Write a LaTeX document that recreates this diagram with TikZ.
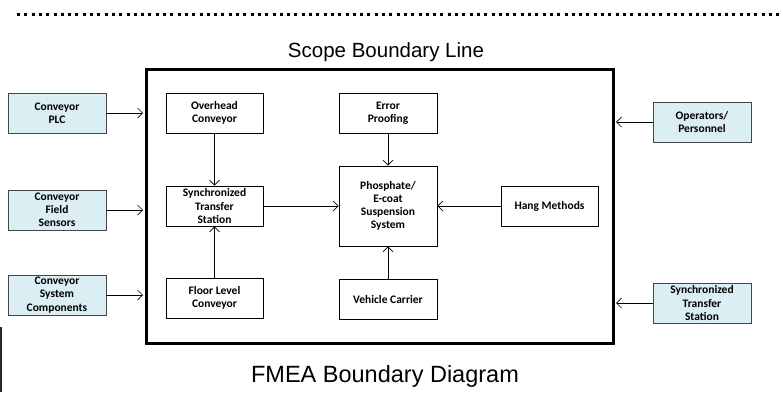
\documentclass[tikz,border=0pt]{standalone}
\usepackage{fontspec}
\setmainfont{Carlito}
\newfontfamily\arialf{Liberation Sans}
\usetikzlibrary{arrows.meta}
\definecolor{lightaqua}{RGB}{219,238,243}
\definecolor{edgegray}{RGB}{70,70,70}
\tikzset{
  box/.style={draw=black, line width=0.8pt, fill=white, inner sep=0pt, align=center,
    font=\fontsize{11.5}{13.2}\selectfont\bfseries, minimum width=97pt, minimum height=40pt},
  extbox/.style={box, draw=edgegray, fill=lightaqua},
  conn/.style={draw=black, line width=0.7pt, -{Straight Barb[length=5pt,width=10pt,line width=0.7pt]}},
}
\begin{document}
\begin{tikzpicture}[x=1pt,y=-1pt]
\useasboundingbox (0,0) rectangle (783,392);
% top dotted line
\coordinate (dl) at (17,14);
\coordinate (dr) at (783,14);
\draw[line width=3pt, dash pattern=on 3pt off 4.3pt] (dl) -- (dr);
% left edge artifact
\coordinate (ba) at (0.8,327);
\coordinate (bb) at (0.8,392);
\draw[line width=1.6pt, black!85] (ba) -- (bb);
% scope box
\node[draw=black, line width=3pt, minimum width=467pt, minimum height=274pt, inner sep=0pt] (scope) at (379.5,206) {};
\node[anchor=base, font=\arialf\fontsize{20.5}{23}\selectfont] (title) at (386,57) {Scope Boundary Line};
\node[anchor=base, font=\arialf\fontsize{23.5}{26}\selectfont] (ftitle) at (385,382) {FMEA Boundary Diagram};
% external boxes
\node[extbox, minimum width=98pt] (plc) at (57,113) {Conveyor\\PLC};
\node[extbox, minimum width=98pt] (sens) at (57,210) {Conveyor\\Field\\Sensors};
\node[extbox, minimum width=98pt] (comp) at (57,295) {Conveyor\\System\\Components};
\node[extbox, minimum width=98pt] (oper) at (702,122) {Operators/\\Personnel};
\node[extbox, minimum width=98pt] (sync2) at (702,303) {Synchronized\\Transfer\\Station};
% internal boxes
\node[box] (over) at (214.5,113) {Overhead\\Conveyor};
\node[box] (sync) at (214.5,206) {Synchronized\\Transfer\\Station};
\node[box] (floor) at (214.5,298) {Floor Level\\Conveyor};
\node[box, minimum width=98pt] (err) at (388,113) {Error\\Proofing};
\node[box, minimum width=98pt, minimum height=80pt] (phos) at (388,206) {Phosphate/\\E-coat\\Suspension\\System};
\node[box, minimum width=98pt] (veh) at (388,299) {Vehicle Carrier};
\node[box] (hang) at (549.5,206) {Hang Methods};
% connectors
\draw[conn, shorten >=1.5pt] (plc.east) -- (plc.east -| scope.west);
\draw[conn, shorten >=1.5pt] (sens.east) -- (sens.east -| scope.west);
\draw[conn, shorten >=1.5pt] (comp.east) -- (comp.east -| scope.west);
\draw[conn, shorten >=1.5pt] (oper.west) -- (oper.west -| scope.east);
\draw[conn, shorten >=1.5pt] (sync2.west) -- (sync2.west -| scope.east);
\draw[conn] (over.south) -- (sync.north);
\draw[conn] (floor.north) -- (sync.south);
\draw[conn] (sync.east) -- (phos.west);
\draw[conn] (err.south) -- (phos.north);
\draw[conn] (veh.north) -- (phos.south);
\draw[conn] (hang.west) -- (phos.east);
\end{tikzpicture}
\end{document}
